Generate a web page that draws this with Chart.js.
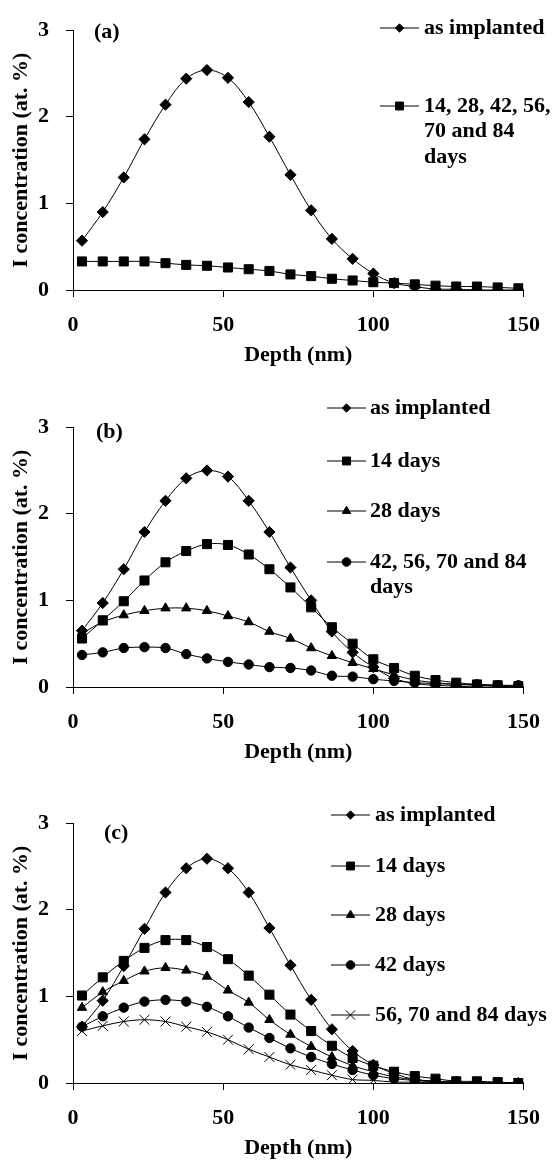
<!DOCTYPE html>
<html><head><meta charset="utf-8">
<script src="https://cdn.jsdelivr.net/npm/chart.js@4.4.1/dist/chart.umd.min.js"></script>
<style>
html,body{margin:0;padding:0;background:#fff;}
body{width:555px;height:1162px;position:relative;overflow:hidden;}
canvas{position:absolute;left:0;}
</style></head><body>
<canvas id="ca" width="555" height="369" style="top:0px"></canvas>
<canvas id="cb" width="555" height="369" style="top:397px"></canvas>
<canvas id="cc" width="555" height="369" style="top:793px"></canvas>
<script>
// ---- data ----
const depth = [3.0, 9.9, 16.9, 23.8, 30.8, 37.7, 44.6, 51.6, 58.5, 65.4, 72.4, 79.3, 86.2, 93.1, 100.0, 106.9, 113.8, 120.7, 127.6, 134.5, 141.4, 148.3];
const xTicks = [0, 50, 100, 150];
const yTicks = [0, 1, 2, 3];

const aImplanted = [0.57,0.90,1.30,1.74,2.14,2.44,2.54,2.45,2.17,1.77,1.33,0.92,0.59,0.36,0.19,0.08,0.04,0.01,0.01,0.00,0.00,0.00];
const aAnnealed  = [0.33,0.33,0.33,0.33,0.31,0.29,0.28,0.26,0.24,0.22,0.18,0.16,0.13,0.11,0.09,0.08,0.065,0.05,0.04,0.04,0.03,0.02];

const bImplanted = [0.65,0.97,1.36,1.79,2.15,2.41,2.50,2.43,2.15,1.79,1.38,1.00,0.64,0.40,0.23,0.10,0.04,0.02,0.01,0.00,0.00,0.00];
const b14 = [0.56,0.77,0.99,1.23,1.44,1.57,1.65,1.64,1.53,1.36,1.15,0.92,0.69,0.50,0.32,0.22,0.13,0.08,0.05,0.03,0.02,0.01];
const b28 = [0.62,0.75,0.83,0.88,0.91,0.91,0.88,0.82,0.75,0.64,0.56,0.45,0.36,0.28,0.21,0.14,0.08,0.05,0.03,0.02,0.01,0.00];
const b42 = [0.37,0.40,0.45,0.46,0.45,0.38,0.33,0.29,0.26,0.23,0.22,0.19,0.13,0.12,0.09,0.07,0.05,0.04,0.03,0.03,0.02,0.02];

const cImplanted = [0.65,0.95,1.35,1.78,2.20,2.48,2.59,2.48,2.20,1.79,1.36,0.96,0.62,0.37,0.21,0.11,0.04,0.02,0.01,0.00,0.00,0.00];
const c14 = [1.01,1.22,1.41,1.56,1.65,1.65,1.57,1.43,1.24,1.02,0.79,0.60,0.43,0.29,0.20,0.13,0.08,0.05,0.02,0.02,0.01,0.00];
const c28 = [0.87,1.05,1.18,1.29,1.33,1.30,1.23,1.07,0.93,0.73,0.56,0.42,0.30,0.20,0.13,0.07,0.04,0.02,0.01,0.00,0.00,0.00];
const c42 = [0.65,0.77,0.87,0.94,0.96,0.94,0.88,0.77,0.64,0.52,0.40,0.30,0.22,0.15,0.09,0.05,0.03,0.01,0.00,0.00,0.00,0.00];
const c56 = [0.60,0.66,0.71,0.73,0.71,0.65,0.59,0.50,0.39,0.30,0.21,0.15,0.09,0.04,0.03,0.01,0.01,0.00,0.00,0.00,0.00,0.00];

const labImpl = ['as implanted'];
const labAllA = ['14, 28, 42, 56,', '70 and 84', 'days'];
const lab14 = ['14 days'];
const lab28 = ['28 days'];
const lab42b = ['42, 56, 70 and 84', 'days'];
const lab42c = ['42 days'];
const lab56c = ['56, 70 and 84 days'];

// ---- styling helpers ----
const FONT = "'Liberation Serif', 'Times New Roman', serif";
const FS = 22;
const styles = {
  diamond: {pointStyle: 'rectRot', radius: 5.6, legend: 4.2},
  square: {pointStyle: 'rect', radius: 6.4, legend: 5.6},
  triangle: {pointStyle: 'triangle', radius: 5.4, legend: 4.8},
  circle: {pointStyle: 'circle', radius: 4.7, legend: 4.3},
  cross: {pointStyle: 'crossRot', radius: 7, legend: 6.5}
};
function ds(label, values, st) {
  return {
    label: label,
    data: values.map((v, i) => ({x: depth[i], y: v})),
    borderColor: '#000', borderWidth: 1,
    backgroundColor: '#000',
    pointStyle: styles[st].pointStyle,
    pointRadius: styles[st].radius,
    pointHoverRadius: styles[st].radius,
    pointBackgroundColor: '#000', pointBorderColor: '#000', pointBorderWidth: 1,
    tension: 0.35, fill: false, legendRadius: styles[st].legend
  };
}

const legendPlugin = {
  id: 'customLegend',
  afterDraw(chart, args, opts) {
    const ctx = chart.ctx;
    ctx.save();
    ctx.font = 'bold ' + FS + 'px ' + FONT;
    ctx.fillStyle = '#000';
    ctx.textBaseline = 'middle';
    ctx.textAlign = 'left';
    ctx.fillText(opts.panel[0], opts.panel[1], opts.panel[2]);
    chart.data.datasets.forEach((d, i) => {
      const y = opts.ys[i];
      ctx.strokeStyle = '#000';
      ctx.lineWidth = 1;
      ctx.beginPath();
      ctx.moveTo(opts.x1, y); ctx.lineTo(opts.x2, y);
      ctx.stroke();
      ctx.fillStyle = '#000';
      Chart.helpers.drawPoint(ctx, {pointStyle: d.pointStyle, radius: d.legendRadius, rotation: 0, borderWidth: 1}, (opts.x1 + opts.x2) / 2, y);
      ctx.fillStyle = '#000';
      const lines = Array.isArray(d.label) ? d.label : [d.label];
      lines.forEach((t, k) => ctx.fillText(t, opts.tx, y + k * 25.5));
    });
    ctx.restore();
  }
};

function make(id, datasets, padRight, leg) {
  const tf = {family: FONT, size: FS, weight: 'bold'};
  return new Chart(document.getElementById(id), {
    type: 'line',
    data: {datasets: datasets},
    plugins: [legendPlugin],
    options: {
      responsive: false, animation: false, devicePixelRatio: 1,
      layout: {padding: {top: 15, right: padRight, bottom: 0, left: 0}},
      plugins: {legend: {display: false}, tooltip: {enabled: false}, customLegend: leg},
      scales: {
        x: {
          type: 'linear', min: 0, max: 150,
          afterBuildTicks: s => { s.ticks = xTicks.map(v => ({value: v})); },
          afterFit: s => { s.height = 79; },
          grid: {display: true, drawOnChartArea: false, drawTicks: true, tickLength: 7, color: '#000', lineWidth: 1},
          border: {display: true, color: '#000', width: 1},
          ticks: {color: '#000', font: tf, padding: 15, maxRotation: 0},
          title: {display: true, text: 'Depth (nm)', color: '#000', font: tf, padding: {top: 0, bottom: 0}}
        },
        y: {
          type: 'linear', min: 0, max: 3,
          afterBuildTicks: s => { s.ticks = yTicks.map(v => ({value: v})); },
          afterFit: s => { s.width = 73; },
          grid: {display: true, drawOnChartArea: false, drawTicks: true, tickLength: 7, color: '#000', lineWidth: 1},
          border: {display: true, color: '#000', width: 1},
          ticks: {color: '#000', font: tf, padding: 17},
          title: {display: true, text: 'I concentration (at. %)', color: '#000', font: tf, padding: {top: 8, bottom: 0}}
        }
      }
    }
  });
}

make('ca', [ds(labImpl, aImplanted, 'diamond'), ds(labAllA, aAnnealed, 'square')], 18,
  {panel: ['(a)', 94, 32], ys: [28, 106], x1: 380, x2: 419, tx: 424});
make('cb', [ds(labImpl, bImplanted, 'diamond'), ds(lab14, b14, 'square'), ds(lab28, b28, 'triangle'), ds(lab42b, b42, 'circle')], 22,
  {panel: ['(b)', 96, 35], ys: [11, 64, 114, 165], x1: 327, x2: 366, tx: 370});
make('cc', [ds(labImpl, cImplanted, 'diamond'), ds(lab14, c14, 'square'), ds(lab28, c28, 'triangle'), ds(lab42c, c42, 'circle'), ds(lab56c, c56, 'cross')], 22,
  {panel: ['(c)', 104, 40], ys: [22, 73, 122, 172, 222], x1: 331, x2: 370, tx: 375});
</script>
</body></html>
